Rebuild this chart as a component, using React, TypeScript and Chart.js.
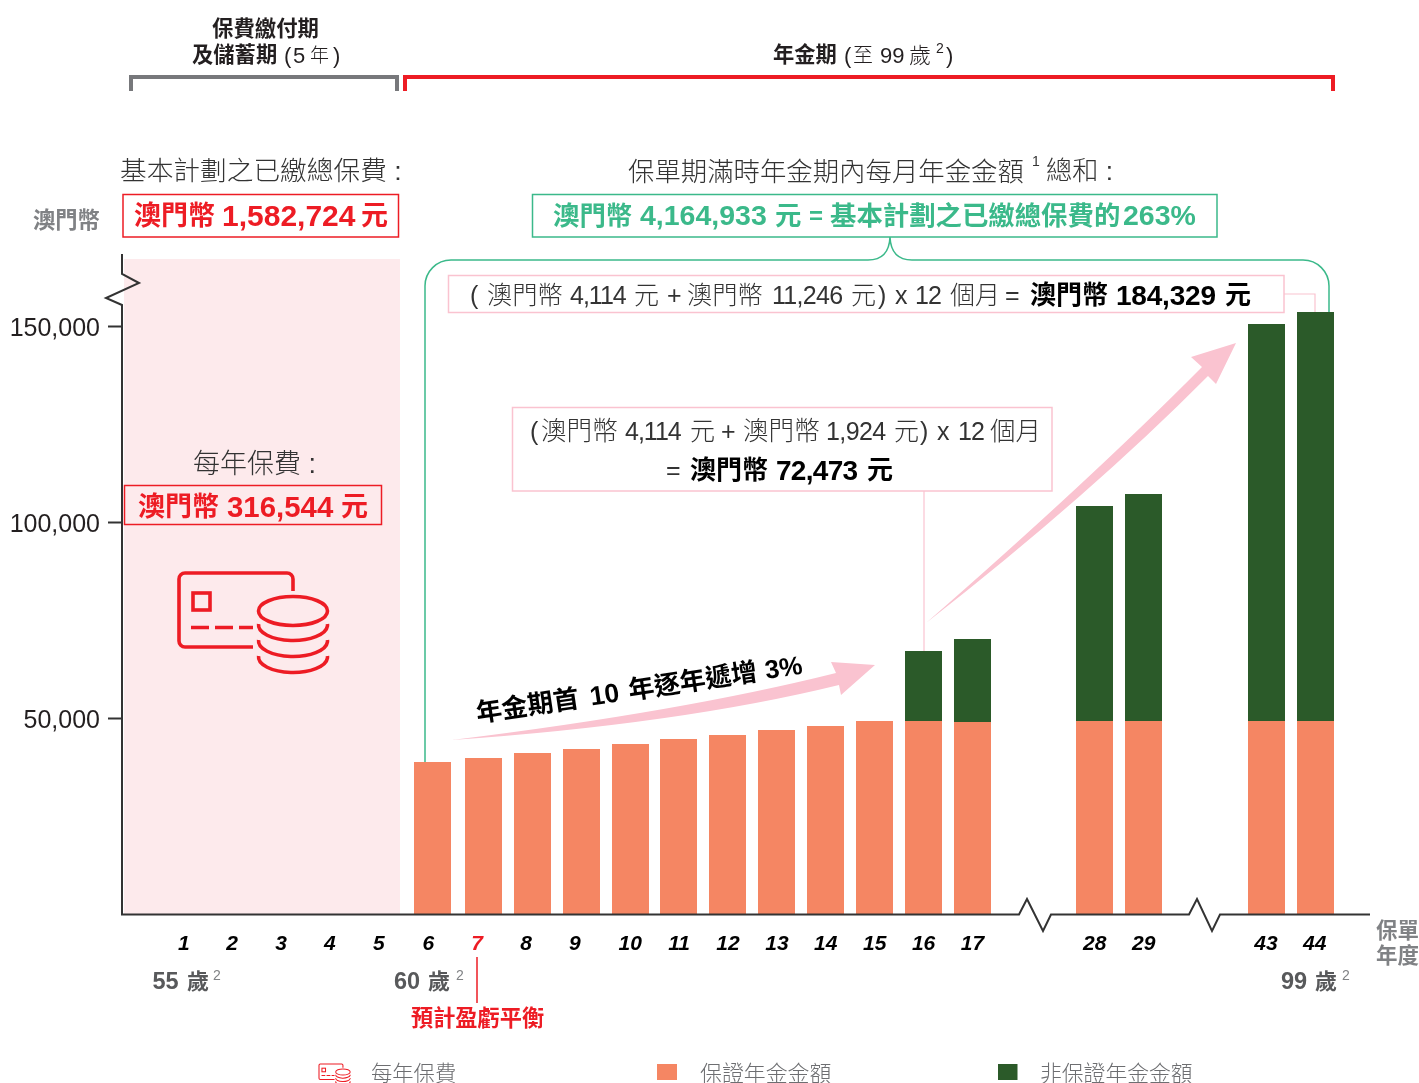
import React, { useEffect, useRef } from "react";
import { Chart, registerables } from "chart.js";

Chart.register(...registerables);

// ---- data ----
const barYears = ["6", "7", "8", "9", "10", "11", "12", "13", "14", "15", "16", "17", "28", "29", "43", "44"];
const barSlots = [5.9576, 7.0005, 8.0025, 9.0045, 10.0065, 10.9882, 11.9902, 12.9922, 13.9942, 14.9963, 15.9983, 17.0003, 19.4952, 20.4972, 23.0125, 24.0145];
const guaranteedValues = [39030, 40050, 41330, 42350, 43620, 44900, 45920, 47190, 48210, 49490, 49490, 49240, 49490, 49490, 49490, 49490];
const nonGuaranteedValues = [null, null, null, null, null, null, null, null, null, null, 17860, 21170, 54850, 57910, 101280, 104340];
const tickLabels = ["1", "2", "3", "4", "5", "6", "7", "8", "9", "10", "11", "12", "13", "14", "15", "16", "17", "28", "29", "43", "44"];
const tickSlots = [0.875, 1.86, 2.86, 3.86, 4.86, 5.87, 6.87, 7.87, 8.87, 10, 11, 12, 13, 14, 15, 16, 17, 19.5, 20.5, 23, 24];
const yTicks = [0, 50000, 100000, 150000];
const seriesNames = ["保證年金金額", "非保證年金金額"];
const premiumName = "每年保費";

const ORANGE = "#f58663";
const GREEN = "#2b5a29";
const RED = "#ed1c24";
const TEAL = "#3bb98a";
const PINK = "#fac3d0";
const INK = "#231f20";
const GREY = "#808285";
const BG = "#fdeaec";
const SANS = '"Liberation Sans","Noto Sans CJK TC"';

function text(ctx: any, s: string, x: number, yc: number, size: number, o: any = {}) {
  ctx.save();
  ctx.font = `${o.style || ""} ${o.weight || 400} ${size}px ${SANS}`;
  ctx.fillStyle = o.color || INK;
  ctx.textAlign = o.align || "left";
  ctx.textBaseline = "alphabetic";
  if (o.sp !== undefined) ctx.letterSpacing = `${o.sp}px`;
  ctx.fillText(s, x, yc + size * 0.36);
  ctx.restore();
}

function cjk(ctx: any, s: string, x: number, yc: number, size: number, o: any = {}) {
  text(ctx, s, x, yc, size, { weight: 300, color: "#333", ...o });
}

function rect(ctx: any, x0: number, y0: number, x1: number, y1: number, color: string, w = 1.5) {
  ctx.save();
  ctx.strokeStyle = color;
  ctx.lineWidth = w;
  ctx.strokeRect(x0, y0, x1 - x0, y1 - y0);
  ctx.restore();
}

function poly(ctx: any, pts: number[][], color: string, w: number) {
  ctx.save();
  ctx.strokeStyle = color;
  ctx.lineWidth = w;
  ctx.lineJoin = "miter";
  ctx.beginPath();
  pts.forEach((p, i) => (i ? ctx.lineTo(p[0], p[1]) : ctx.moveTo(p[0], p[1])));
  ctx.stroke();
  ctx.restore();
}

function moneyIcon(ctx: any, ox: number, oy: number, k: number, w: number) {
  ctx.save();
  ctx.translate(ox, oy);
  ctx.scale(k, k);
  ctx.strokeStyle = RED;
  ctx.lineWidth = w;
  ctx.beginPath();
  ctx.moveTo(114, 18);
  ctx.lineTo(114, 6);
  ctx.arcTo(114, 0, 108, 0, 6);
  ctx.lineTo(6, 0);
  ctx.arcTo(0, 0, 0, 6, 6);
  ctx.lineTo(0, 68);
  ctx.arcTo(0, 74, 6, 74, 6);
  ctx.lineTo(74, 74);
  ctx.stroke();
  ctx.strokeRect(14, 20, 17, 17);
  ctx.beginPath();
  [[12, 30], [36, 54], [60, 74]].forEach(([a, b]) => {
    ctx.moveTo(a, 54.5);
    ctx.lineTo(b, 54.5);
  });
  ctx.stroke();
  ctx.beginPath();
  ctx.ellipse(114, 38, 34.5, 14.5, 0, 0, Math.PI * 2);
  ctx.stroke();
  [54, 70, 86].forEach((c) => {
    ctx.beginPath();
    ctx.ellipse(114, c - 2, 34.5, 15.5, 0, Math.PI * 1.02, -0.02 * Math.PI, true);
    ctx.stroke();
  });
  ctx.restore();
}

const annotations = {
  id: "annotations",
  beforeDatasetsDraw(chart: any) {
    const ctx = chart.ctx;
    ctx.save();
    ctx.fillStyle = BG;
    ctx.fillRect(124, 259, 276, 655);
    ctx.restore();

    // teal brace
    ctx.save();
    ctx.strokeStyle = TEAL;
    ctx.lineWidth = 1.5;
    ctx.beginPath();
    ctx.moveTo(425, 762);
    ctx.lineTo(425, 286);
    ctx.arcTo(425, 260, 451, 260, 26);
    ctx.lineTo(868, 260);
    ctx.quadraticCurveTo(889, 260, 890, 237);
    ctx.quadraticCurveTo(891, 260, 912, 260);
    ctx.lineTo(1303, 260);
    ctx.arcTo(1329, 260, 1329, 286, 26);
    ctx.lineTo(1329, 312);
    ctx.stroke();
    ctx.restore();

    // pink connectors
    poly(ctx, [[1284, 294], [1315, 294], [1315, 312]], PINK, 1.2);
    poly(ctx, [[924, 491], [924, 651]], PINK, 1.2);
  },
  afterDatasetsDraw(chart: any) {
    const ctx = chart.ctx;

    // axes with breaks
    poly(ctx, [[122, 254], [122, 274], [139, 283], [106, 298], [122, 305], [122, 915]], "#333", 2);
    poly(
      ctx,
      [[121, 914.5], [1019, 914.5], [1027, 899], [1043, 931], [1051, 914.5], [1189, 914.5], [1197, 899], [1212, 931], [1220, 914.5], [1370, 914.5]],
      "#333",
      2,
    );

    // top brackets
    poly(ctx, [[131, 91], [131, 77], [397, 77], [397, 91]], "#77787b", 4);
    poly(ctx, [[405, 91], [405, 77], [1333, 77], [1333, 91]], RED, 4);

    // arrows
    ctx.save();
    ctx.fillStyle = PINK;
    ctx.beginPath();
    ctx.moveTo(452, 740);
    ctx.quadraticCurveTo(680, 712, 836, 673);
    ctx.lineTo(831, 662);
    ctx.lineTo(875, 665);
    ctx.lineTo(841, 695);
    ctx.lineTo(839, 685);
    ctx.quadraticCurveTo(680, 724, 452, 740);
    ctx.fill();
    ctx.beginPath();
    ctx.moveTo(926, 623);
    ctx.quadraticCurveTo(1090, 480, 1202, 367);
    ctx.lineTo(1191, 357);
    ctx.lineTo(1236, 343);
    ctx.lineTo(1216, 384);
    ctx.lineTo(1208, 376);
    ctx.quadraticCurveTo(1090, 495, 926, 623);
    ctx.fill();
    ctx.restore();

    // heading texts
    text(ctx, "保費繳付期", 212, 28, 21.4, { weight: 700 });
    text(ctx, "及儲蓄期", 192, 54, 21.3, { weight: 700 });
    cjk(ctx, "(", 284, 55, 22, { color: INK });
    cjk(ctx, "5", 293, 55, 22, { color: INK });
    cjk(ctx, "年", 310, 55, 19, { color: INK });
    cjk(ctx, ")", 333, 55, 22, { color: INK });
    text(ctx, "年金期", 773, 54, 21.3, { weight: 700 });
    cjk(ctx, "(", 844, 55, 22, { color: INK });
    cjk(ctx, "至", 853, 55, 20, { color: INK });
    cjk(ctx, "99", 880, 55, 22, { color: INK });
    cjk(ctx, "歲", 909, 55, 22, { color: INK });
    cjk(ctx, "2", 936, 48, 14, { color: INK });
    cjk(ctx, ")", 946, 55, 22, { color: INK });

    cjk(ctx, "基本計劃之已繳總保費 :", 120, 170, 26.7);
    text(ctx, "澳門幣", 33, 220, 22.3, { weight: 700, color: GREY });
    rect(ctx, 123, 194.5, 398.5, 237, RED);
    text(ctx, "澳門幣", 134, 215, 27, { weight: 700, color: RED });
    text(ctx, "1,582,724", 222, 215, 30, { weight: 700, color: RED });
    text(ctx, "元", 361, 215, 27, { weight: 700, color: RED });

    cjk(ctx, "保單期滿時年金期內每月年金金額", 628, 171, 26.4);
    cjk(ctx, "1", 1032, 161, 14);
    cjk(ctx, "總和 :", 1046, 171, 26.2);
    rect(ctx, 532.5, 194.5, 1217, 237, TEAL);
    text(ctx, "澳門幣", 553, 215, 26.4, { weight: 700, color: TEAL });
    text(ctx, "4,164,933", 640, 215, 28.5, { weight: 700, color: TEAL });
    text(ctx, "元", 775, 215, 26.4, { weight: 700, color: TEAL });
    text(ctx, "=", 809, 215, 24, { weight: 700, color: TEAL });
    text(ctx, "基本計劃之已繳總保費的", 830, 215, 26.4, { weight: 700, color: TEAL });
    text(ctx, "263%", 1123, 215, 28.5, { weight: 700, color: TEAL });

    rect(ctx, 448.5, 275.5, 1284, 312.5, PINK);
    const y1 = 295;
    cjk(ctx, "(", 470, y1, 25);
    cjk(ctx, "澳門幣", 487, y1, 25.3);
    cjk(ctx, "4,114", 570, y1, 25, { sp: -1 });
    cjk(ctx, "元", 634, y1, 25);
    cjk(ctx, "+", 667, y1, 25);
    cjk(ctx, "澳門幣", 687, y1, 25.3);
    cjk(ctx, "11,246", 772, y1, 25, { sp: -0.7 });
    cjk(ctx, "元", 851, y1, 25);
    cjk(ctx, ")", 878, y1, 25);
    cjk(ctx, "x", 895, y1, 25);
    cjk(ctx, "12", 915, y1, 25, { sp: -1 });
    cjk(ctx, "個月", 950, y1, 25);
    cjk(ctx, "=", 1005, y1, 25);
    text(ctx, "澳門幣", 1030, y1, 26, { weight: 700, color: "#000" });
    text(ctx, "184,329", 1116, y1, 28, { weight: 700, color: "#000", sp: -0.2 });
    text(ctx, "元", 1225, y1, 26, { weight: 700, color: "#000" });

    rect(ctx, 512.5, 407.5, 1052, 491, PINK);
    const y2 = 431;
    cjk(ctx, "(", 530, y2, 25);
    cjk(ctx, "澳門幣", 541, y2, 25.6);
    cjk(ctx, "4,114", 625, y2, 25, { sp: -1 });
    cjk(ctx, "元", 690, y2, 25);
    cjk(ctx, "+", 721, y2, 25);
    cjk(ctx, "澳門幣", 743, y2, 25.6);
    cjk(ctx, "1,924", 826, y2, 25, { sp: -0.6 });
    cjk(ctx, "元", 894, y2, 25);
    cjk(ctx, ")", 920, y2, 25);
    cjk(ctx, "x", 937, y2, 25);
    cjk(ctx, "12", 958, y2, 25, { sp: -1 });
    cjk(ctx, "個月", 990, y2, 25.5);
    const y3 = 470;
    cjk(ctx, "=", 666, y3, 25);
    text(ctx, "澳門幣", 690, y3, 26, { weight: 700, color: "#000" });
    text(ctx, "72,473", 776, y3, 28, { weight: 700, color: "#000", sp: -0.7 });
    text(ctx, "元", 867, y3, 26, { weight: 700, color: "#000" });

    cjk(ctx, "每年保費 :", 193, 463, 27);
    rect(ctx, 124.5, 485.5, 381.5, 524.5, RED);
    text(ctx, "澳門幣", 138, 506, 27, { weight: 700, color: RED });
    text(ctx, "316,544", 227, 506, 29.4, { weight: 700, color: RED });
    text(ctx, "元", 341, 506, 27, { weight: 700, color: RED });
    moneyIcon(ctx, 179, 573, 1, 3.6);

    // rotated label
    ctx.save();
    ctx.translate(476, 713);
    ctx.rotate((-8.5 * Math.PI) / 180);
    text(ctx, "年金期首", 0, 0, 26, { weight: 700, color: "#000" });
    text(ctx, "10", 115, 0, 26.5, { weight: 700, color: "#000" });
    text(ctx, "年逐年遞增", 154, 0, 26, { weight: 700, color: "#000" });
    text(ctx, "3%", 292, 0, 26, { weight: 700, color: "#000" });
    ctx.restore();

    // age labels
    const AGE = "#58595b";
    text(ctx, "55", 152.5, 981, 23.5, { weight: 700, color: AGE });
    text(ctx, "歲", 187, 981, 22, { weight: 700, color: AGE });
    cjk(ctx, "2", 213, 975, 14, { color: GREY });
    text(ctx, "60", 394, 981, 23.5, { weight: 700, color: AGE });
    text(ctx, "歲", 428, 981, 22, { weight: 700, color: AGE });
    cjk(ctx, "2", 456, 975, 14, { color: GREY });
    text(ctx, "99", 1281, 981, 23.5, { weight: 700, color: AGE });
    text(ctx, "歲", 1315, 981, 22, { weight: 700, color: AGE });
    cjk(ctx, "2", 1342, 975, 14, { color: GREY });

    poly(ctx, [[477, 957], [477, 1003]], RED, 1.5);
    text(ctx, "預計盈虧平衡", 411, 1018, 22.2, { weight: 700, color: RED });

    text(ctx, "保單", 1376, 930, 21.5, { weight: 700, color: GREY });
    text(ctx, "年度", 1376, 955, 21.5, { weight: 700, color: GREY });

    // legend
    moneyIcon(ctx, 319, 1064, 0.21, 5);
    cjk(ctx, premiumName, 371, 1073, 21.3, { color: "#6d6e71" });
    ctx.fillStyle = ORANGE;
    ctx.fillRect(657, 1064, 20, 16);
    cjk(ctx, seriesNames[0], 700, 1073, 21.9, { color: "#6d6e71" });
    ctx.fillStyle = GREEN;
    ctx.fillRect(998, 1064, 19.5, 16);
    cjk(ctx, seriesNames[1], 1040, 1073, 21.8, { color: "#6d6e71" });
  },
};

export default function App() {
  const ref = useRef<HTMLCanvasElement>(null);

  useEffect(() => {
    if (!ref.current) return;
    const chart = new Chart(ref.current, {
      type: "bar",
      data: {
        labels: barYears,
        datasets: [
          {
            label: seriesNames[0],
            data: barSlots.map((x, i) => ({ x, y: guaranteedValues[i] })),
            backgroundColor: ORANGE,
            barThickness: 37,
            inflateAmount: 0,
            stack: "s",
          },
          {
            label: seriesNames[1],
            data: barSlots.map((x, i) => ({ x, y: nonGuaranteedValues[i] })),
            backgroundColor: GREEN,
            barThickness: 37,
            inflateAmount: 0,
            stack: "s",
          },
        ],
      } as any,
      options: {
        responsive: false,
        animation: false,
        layout: { padding: { top: 255, right: 49, left: 0, bottom: 0 } },
        plugins: { legend: { display: false }, tooltip: { enabled: false }, title: { display: false } },
        scales: {
          x: {
            type: "linear",
            stacked: true,
            offset: false,
            bounds: "data",
            min: -0.392,
            max: 25.129,
            grid: { display: false },
            border: { display: false },
            afterBuildTicks: (s: any) => {
              s.ticks = tickSlots.map((value) => ({ value }));
            },
            afterFit: (s: any) => {
              s.height = 168;
            },
            ticks: {
              autoSkip: false,
              maxRotation: 0,
              padding: 9,
              font: { family: SANS, size: 21, style: "italic", weight: "bold" },
              color: (c: any) => (tickLabels[c.index] === "7" ? RED : "#000"),
              callback: (_v: any, i: number) => tickLabels[i],
            },
          },
          y: {
            stacked: true,
            min: 0,
            max: 168367,
            bounds: "data",
            border: { display: false },
            grid: {
              drawOnChartArea: false,
              drawTicks: true,
              tickLength: 14,
              tickWidth: 2,
              tickColor: (c: any) => (c.tick && c.tick.value === 0 ? "transparent" : "#333"),
            },
            afterBuildTicks: (s: any) => {
              s.ticks = yTicks.map((value) => ({ value }));
            },
            afterFit: (s: any) => {
              s.width = 122;
            },
            ticks: {
              autoSkip: false,
              padding: 8,
              labelOffset: 2,
              color: INK,
              font: { family: SANS, size: 25 },
              callback: (v: any) => (v === 0 ? "" : Number(v).toLocaleString("en-US")),
            },
          },
        },
      } as any,
      plugins: [annotations],
    });
    return () => chart.destroy();
  }, []);

  return (
    <div style={{ position: "absolute", left: 0, top: 0, width: 1419, height: 1083, overflow: "hidden", background: "#fff" }}>
      <canvas ref={ref} width={1419} height={1083} style={{ display: "block" }} />
    </div>
  );
}
